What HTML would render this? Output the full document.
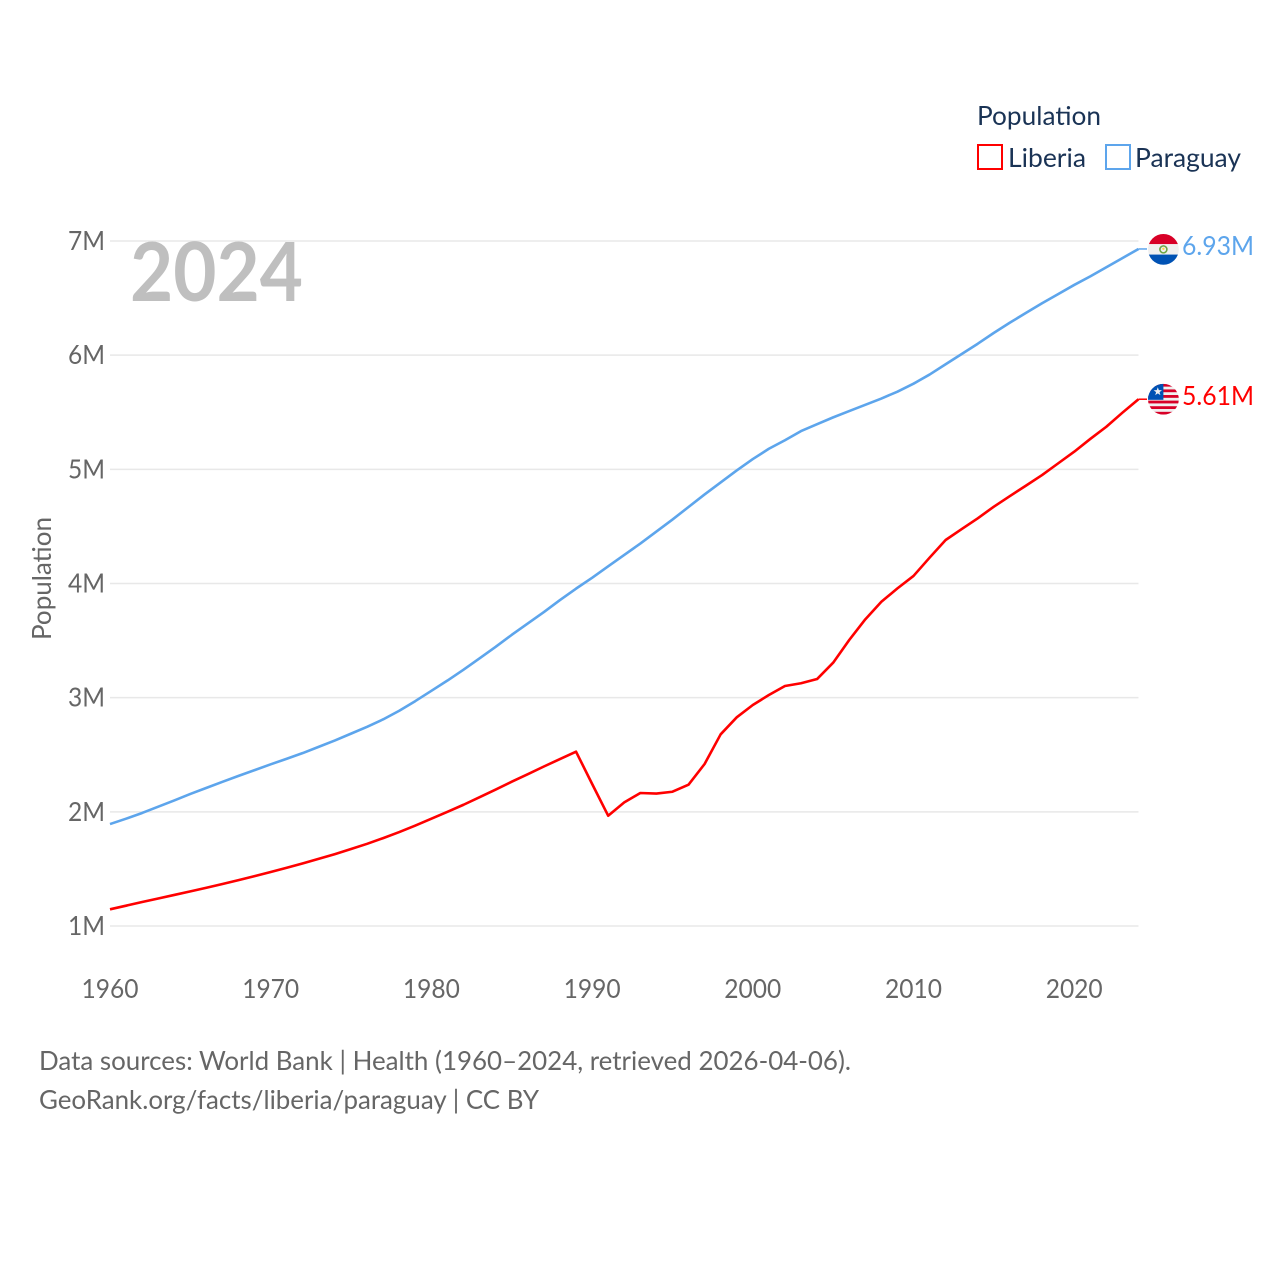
<!DOCTYPE html>
<html lang="en">
<head>
<meta charset="utf-8">
<title>Population: Liberia and Paraguay</title>
<style>
  html, body { margin: 0; padding: 0; background: #fff; }
  svg { display: block; font-family: "Lato", "Carlito", "Liberation Sans", sans-serif; }
</style>
</head>
<body>
<svg id="chart" xmlns="http://www.w3.org/2000/svg" width="1280" height="1280" viewBox="0 0 1280 1280">
  <defs>
    <clipPath id="clip-py"><circle id="clip-py-c" r="15.4"></circle></clipPath>
    <clipPath id="clip-lr"><circle id="clip-lr-c" r="15.4"></circle></clipPath>
  </defs>
  <rect width="1280" height="1280" fill="#fff"></rect>
  <g id="grid"></g>
  <g id="yticks"></g>
  <g id="xticks"></g>
  <text x="130" y="301" font-size="81" font-weight="700" fill="#bfbfbf" textLength="173" lengthAdjust="spacingAndGlyphs">2024</text>
  <text transform="translate(51 640) rotate(-90)" font-size="26.5" fill="#666" textLength="123" lengthAdjust="spacingAndGlyphs">Population</text>
  <g id="series"></g>
  <g id="end-markers"></g>

  <g>
    <text x="977" y="125" font-size="26.5" fill="#1a3355" textLength="124" lengthAdjust="spacingAndGlyphs">Population</text>
    <g>
      <rect x="978" y="145" width="24" height="24" fill="none" stroke="#ff0000" stroke-width="2"></rect>
      <text x="1008" y="167" font-size="26.5" fill="#1a3355" textLength="78" lengthAdjust="spacingAndGlyphs">Liberia</text>
    </g>
    <g>
      <rect x="1106" y="145" width="24" height="24" fill="none" stroke="#5da5ec" stroke-width="2"></rect>
      <text x="1135" y="167" font-size="26.5" fill="#1a3355" textLength="106" lengthAdjust="spacingAndGlyphs">Paraguay</text>
    </g>
  </g>

  <text x="39" y="1070" font-size="26.5" fill="#666" textLength="812" lengthAdjust="spacingAndGlyphs">Data sources: World Bank | Health (1960–2024, retrieved 2026-04-06).</text>
  <text x="39" y="1109" font-size="26.5" fill="#666" textLength="500" lengthAdjust="spacingAndGlyphs">GeoRank.org/facts/liberia/paraguay | CC BY</text>
</svg>

<script>
const years = [1960,1961,1962,1963,1964,1965,1966,1967,1968,1969,1970,1971,1972,1973,1974,1975,1976,1977,1978,1979,1980,1981,1982,1983,1984,1985,1986,1987,1988,1989,1990,1991,1992,1993,1994,1995,1996,1997,1998,1999,2000,2001,2002,2003,2004,2005,2006,2007,2008,2009,2010,2011,2012,2013,2014,2015,2016,2017,2018,2019,2020,2021,2022,2023,2024];
const liberia = [1.146,1.178,1.21,1.241,1.272,1.303,1.335,1.368,1.402,1.437,1.473,1.51,1.549,1.589,1.63,1.674,1.72,1.77,1.823,1.88,1.94,2.0,2.062,2.128,2.195,2.264,2.33,2.397,2.462,2.527,2.245,1.966,2.083,2.165,2.16,2.176,2.238,2.419,2.679,2.828,2.936,3.023,3.102,3.126,3.163,3.306,3.505,3.686,3.84,3.957,4.066,4.226,4.381,4.477,4.571,4.673,4.766,4.857,4.95,5.052,5.154,5.266,5.373,5.496,5.614];
const paraguay = [1.893,1.94,1.99,2.045,2.1,2.157,2.21,2.263,2.315,2.365,2.416,2.465,2.515,2.57,2.625,2.685,2.745,2.81,2.885,2.97,3.06,3.15,3.245,3.345,3.445,3.55,3.65,3.75,3.855,3.955,4.05,4.15,4.25,4.35,4.455,4.56,4.67,4.78,4.885,4.99,5.09,5.18,5.255,5.335,5.395,5.455,5.51,5.565,5.62,5.68,5.75,5.83,5.92,6.01,6.1,6.195,6.285,6.37,6.455,6.535,6.615,6.69,6.77,6.85,6.93];
const yTickValues = [1,2,3,4,5,6,7];
const yTickLabels = ["1M","2M","3M","4M","5M","6M","7M"];
const xTickValues = [1960,1970,1980,1990,2000,2010,2020];
const xTickLabels = ["1960","1970","1980","1990","2000","2010","2020"];
const endLabels = ["5.61M","6.93M"];

const NS = "http://www.w3.org/2000/svg";
function xAxis(year) { return 110 + (year - 1960) * 16.07; }
function yAxis(v) { return 926 - (v - 1) * 114.17; }
function make(tag, parent, attrs) {
  const el = document.createElementNS(NS, tag);
  for (const k in attrs) el.setAttribute(k, attrs[k]);
  parent.appendChild(el);
  return el;
}

const grid = document.getElementById("grid");
const yticks = document.getElementById("yticks");
const xticks = document.getElementById("xticks");
const series = document.getElementById("series");
const markers = document.getElementById("end-markers");

yTickValues.forEach(function (v, i) {
  const line = make("line", grid, { x1: 110, x2: xAxis(2024), y1: yAxis(v), y2: yAxis(v), stroke: "#e8e8e8", "stroke-width": 1.5 });
  
  
  const t = make("text", yticks, { x: 105, y: yAxis(v) + 9, "text-anchor": "end", "font-size": 26.5, fill: "#666", textLength: 37, lengthAdjust: "spacingAndGlyphs" });
  t.textContent = yTickLabels[i];
  
  
});

xTickValues.forEach(function (v, i) {
  const t = make("text", xticks, { x: xAxis(v), y: 998, "text-anchor": "middle", "font-size": 26.5, fill: "#666", textLength: 57, lengthAdjust: "spacingAndGlyphs" });
  t.textContent = xTickLabels[i];
  
  
});

function pathFor(values) {
  return values.map(function (v, i) {
    return (i ? "L" : "M") + xAxis(years[i]).toFixed(2) + " " + yAxis(v).toFixed(2);
  }).join("");
}

const paraguayLine = make("path", series, { d: pathFor(paraguay), fill: "none", stroke: "#5da5ec", "stroke-width": 2.6, "stroke-linejoin": "round" });


const liberiaLine = make("path", series, { d: pathFor(liberia), fill: "none", stroke: "#ff0000", "stroke-width": 2.6, "stroke-linejoin": "round" });



const lastYear = years[years.length - 1];
const flagX = 1163.4;
const labelX = 1182;

/* Paraguay end marker */
const pyY = yAxis(paraguay[paraguay.length - 1]);
const pyConn = make("line", markers, { x1: xAxis(lastYear), x2: 1147, y1: pyY, y2: pyY, stroke: "#5da5ec", "stroke-width": 1.5 });


const pyClip = document.getElementById("clip-py-c");
pyClip.setAttribute("cx", flagX);
pyClip.setAttribute("cy", pyY + 0.4);
const pyFlag = make("g", markers, { "clip-path": "url(#clip-py)" });


make("rect", pyFlag, { x: flagX - 16, y: pyY - 16, width: 32, height: 11.2, fill: "#d80027" });
make("rect", pyFlag, { x: flagX - 16, y: pyY - 4.8, width: 32, height: 10.4, fill: "#f0f0f0" });
make("rect", pyFlag, { x: flagX - 16, y: pyY + 5.6, width: 32, height: 11, fill: "#0052b4" });
make("circle", pyFlag, { cx: flagX, cy: pyY + 0.4, r: 3.5, fill: "none", stroke: "#6da544", "stroke-width": 1.6 });
make("circle", pyFlag, { cx: flagX, cy: pyY - 0.2, r: 1.2, fill: "#ffda44" });
const pyText = make("text", markers, { x: labelX, y: pyY + 6, "font-size": 26.5, fill: "#5da5ec", textLength: 72, lengthAdjust: "spacingAndGlyphs" });
pyText.textContent = endLabels[1];



/* Liberia end marker */
const lrY = yAxis(liberia[liberia.length - 1]);
const lrConn = make("line", markers, { x1: xAxis(lastYear), x2: 1147, y1: lrY, y2: lrY, stroke: "#ff0000", "stroke-width": 1.5 });


const lrClip = document.getElementById("clip-lr-c");
lrClip.setAttribute("cx", flagX);
lrClip.setAttribute("cy", lrY);
const lrFlag = make("g", markers, { "clip-path": "url(#clip-lr)" });


make("rect", lrFlag, { x: flagX - 16, y: lrY - 16, width: 32, height: 32, fill: "#f0f0f0" });
for (let s = 0; s < 6; s++) {
  make("rect", lrFlag, { x: flagX - 16, y: lrY - 15.4 + s * 5.6, width: 32, height: 2.8, fill: "#d80027" });
}
make("rect", lrFlag, { x: flagX - 16, y: lrY - 16, width: 16, height: 16.6, fill: "#0052b4" });
const cx = flagX - 5.6, cy = lrY - 7.6;
make("polygon", lrFlag, {
  fill: "#f0f0f0",
  points: [0,1,2,3,4,5,6,7,8,9].map(function (k) {
    const a = -Math.PI / 2 + k * Math.PI / 5, r = k % 2 ? 1.8 : 4.4;
    return (cx + r * Math.cos(a)).toFixed(2) + "," + (cy + r * Math.sin(a)).toFixed(2);
  }).join(" ")
});
const lrText = make("text", markers, { x: labelX, y: lrY + 6, "font-size": 26.5, fill: "#ff0000", textLength: 72, lengthAdjust: "spacingAndGlyphs" });
lrText.textContent = endLabels[0];


</script>
</body>
</html>
